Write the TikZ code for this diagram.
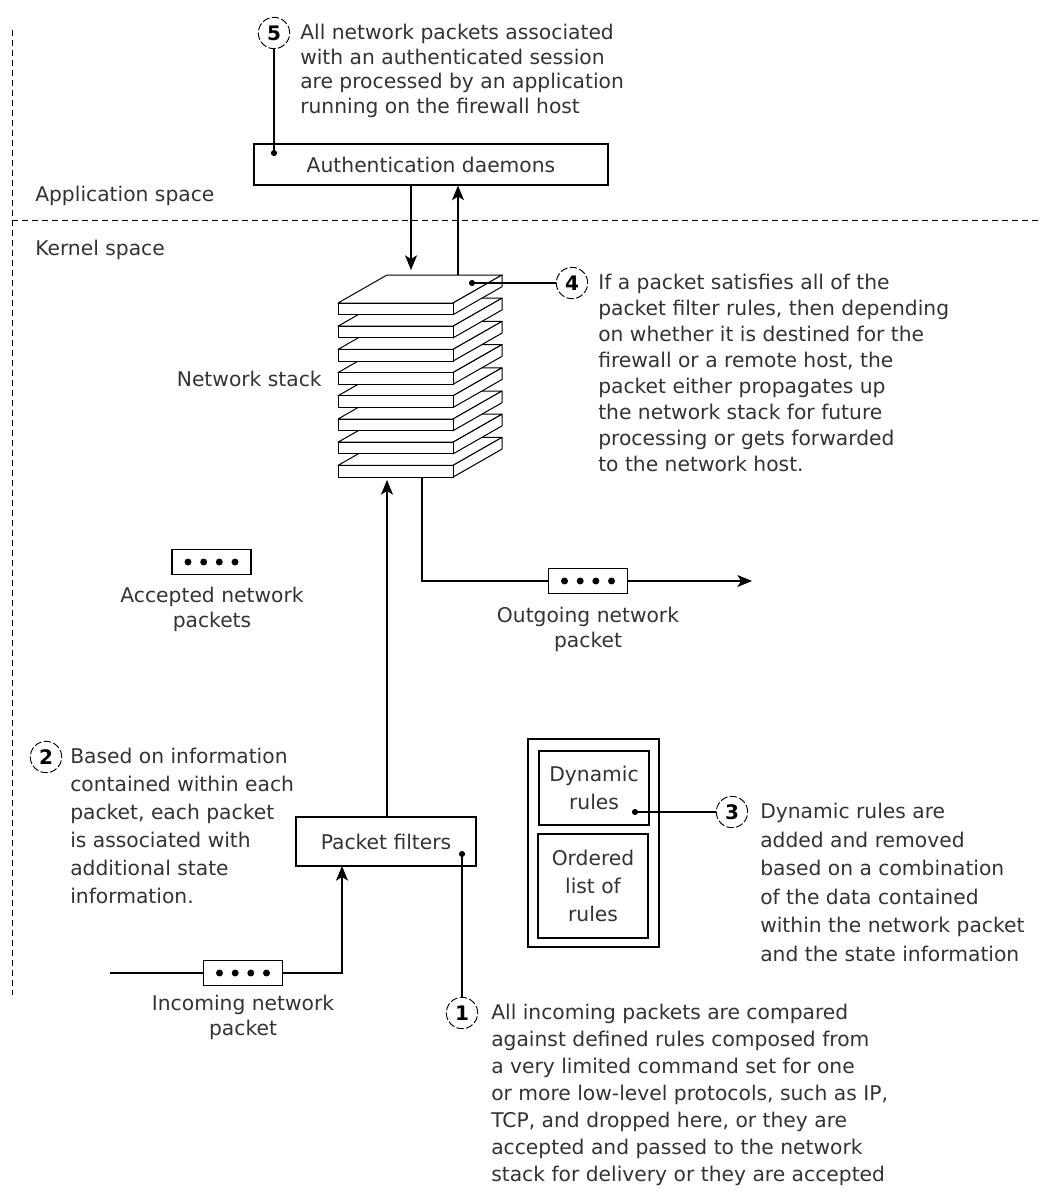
\documentclass[tikz,border=0pt]{standalone}
\usepackage{fontspec}
\setmainfont{DejaVu Sans}
\usetikzlibrary{arrows.meta}
\begin{document}
\begin{tikzpicture}[x=0.75pt,y=-0.75pt,
  ln/.style={line width=0.85pt},
  arr/.style={line width=0.85pt,-{Stealth[length=11pt,width=9pt,inset=2.8pt]}},
  dsh/.style={line width=0.75pt,dash pattern=on 4.5pt off 3pt},
  txt/.style={inner sep=0pt,align=left,anchor=north west,text=black!80},
  lbl/.style={inner sep=0pt,text=black!80,font=\fontsize{15.2}{18.75}\selectfont},
  num/.style={circle,draw,line width=0.7pt,dash pattern=on 5.5pt off 1.8pt,minimum size=23.5pt,inner sep=0pt,font=\bfseries\fontsize{15}{15}\selectfont},
  bx/.style={draw,line width=0.85pt,fill=white,inner sep=0pt,text=black!80,align=center},
  pk/.style={draw,line width=0.85pt,fill=white,minimum width=59.25pt,minimum height=18.75pt,inner sep=0pt},
  slab/.style={draw,line width=0.75pt,fill=white,line join=round},
  dotm/.style={fill=black}
]
\useasboundingbox (0,0) rectangle (1046,1193);

% region separators
\coordinate (vtop) at (12,30);
\coordinate (vbot) at (12,995);
\coordinate (hl) at (12,220);
\coordinate (hr) at (1040,220);
\draw[dsh] (vtop) -- (vbot);
\draw[dsh] (hl) -- (hr);
\node[lbl,anchor=west] (appsp) at (35,196) {Application space};
\node[lbl,anchor=west] (kersp) at (35,250) {Kernel space};

% authentication daemons
\node[bx,minimum width=265.5pt,minimum height=30.75pt,font=\fontsize{15.2}{18}\selectfont] (auth) at (431,164.5) {Authentication daemons};

% callout 5
\node[num] (c5) at (274,33) {5};
\node[txt,font=\fontsize{15.2}{18.4}\selectfont] (t5) at (300,24) {All network packets associated\\with an authenticated session\\are processed by an application\\running on the firewall host};
\coordinate (d5) at (274,153);
\draw[ln] (c5.south) -- (d5);
\fill[dotm] (d5) circle (2.3pt);

% network stack
\foreach \k in {7,6,...,0}{
  \pgfmathsetmacro\t{303+23.2*\k}
  \pgfmathsetmacro\b{\t+11.7}
  \draw[slab] (338,\t) -- (387,\t-28) -- (502,\t-28) -- (453,\t) -- cycle;
  \draw[slab] (453,\t) -- (502,\t-28) -- (502,\b-28) -- (453,\b) -- cycle;
  \draw[slab] (338,\t) rectangle (453,\b);
}
\node[lbl,anchor=east] (nslbl) at (322,379) {Network stack};
\coordinate (dn) at (411,270);
\coordinate (up) at (458,275);
\draw[arr] (auth.south -| dn) -- (dn);
\draw[arr] (up) -- (up |- auth.south);

% callout 4
\node[num] (c4) at (572,283) {4};
\node[txt,font=\fontsize{15.2}{19.5}\selectfont] (t4) at (598,274) {If a packet satisfies all of the\\packet filter rules, then depending\\on whether it is destined for the\\firewall or a remote host, the\\packet either propagates up\\the network stack for future\\processing or gets forwarded\\to the network host.};
\coordinate (d4) at (472,283);
\draw[ln] (d4) -- (c4.west);
\fill[dotm] (d4) circle (2.3pt);

% accepted packets
\node[pk] (acc) at (211.5,562) {};
\foreach \d in {-23.5,-7.8,7.8,23.5} \fill[dotm,shift={(acc.center)}] (\d,0) circle (2.6pt);
\node[lbl,anchor=north,align=center] (acclbl) at (212,587) {Accepted network\\packets};

% outgoing
\coordinate (so) at (422,477);
\coordinate (oe) at (752,581);
\node[pk] (out) at (588,581) {};
\draw[ln] (so) |- (out.west);
\draw[arr] (out.east) -- (oe);
\foreach \d in {-23.5,-7.8,7.8,23.5} \fill[dotm,shift={(out.center)}] (\d,0) circle (2.6pt);
\node[lbl,anchor=north,align=center] (outlbl) at (588,607) {Outgoing network\\packet};

% packet filters
\node[bx,minimum width=135pt,minimum height=36.75pt,font=\fontsize{15.2}{18}\selectfont] (pf) at (386,841.5) {Packet filters};
\coordinate (sb) at (387,480);
\draw[arr] (pf.north -| sb) -- (sb);

% incoming
\coordinate (ia) at (110,973);
\coordinate (pfin) at (342,866);
\node[pk] (inc) at (243,973) {};
\draw[ln] (ia) -- (inc.west);
\draw[arr] (inc.east) -| (pfin);
\foreach \d in {-23.5,-7.8,7.8,23.5} \fill[dotm,shift={(inc.center)}] (\d,0) circle (2.6pt);
\node[lbl,anchor=north,align=center] (inclbl) at (243,995) {Incoming network\\packet};

% callout 2
\node[num] (c2) at (46,757) {2};
\node[txt,font=\fontsize{15.2}{21}\selectfont] (t2) at (70,748) {Based on information\\contained within each\\packet, each packet\\is associated with\\additional state\\information.};

% rules
\node[bx,minimum width=98.25pt,minimum height=156pt] (rules) at (593.5,843) {};
\node[bx,minimum width=82.5pt,minimum height=55.5pt,font=\fontsize{15.2}{21}\selectfont] (dyn) at (594,788) {Dynamic\\rules};
\node[bx,minimum width=82.5pt,minimum height=78pt,font=\fontsize{15.2}{21}\selectfont] (ord) at (593,886) {Ordered\\list of\\rules};

% callout 3
\node[num] (c3) at (732,812) {3};
\node[txt,font=\fontsize{15.2}{21.4}\selectfont] (t3) at (760,803) {Dynamic rules are\\added and removed\\based on a combination\\of the data contained\\within the network packet\\and the state information};
\coordinate (d3) at (635,812);
\draw[ln] (d3) -- (c3.west);
\fill[dotm] (d3) circle (2.3pt);

% callout 1
\node[num] (c1) at (462,1013) {1};
\node[txt,font=\fontsize{15.2}{20.25}\selectfont] (t1) at (491,1004) {All incoming packets are compared\\against defined rules composed from\\a very limited command set for one\\or more low-level protocols, such as IP,\\TCP, and dropped here, or they are\\accepted and passed to the network\\stack for delivery or they are accepted};
\coordinate (d1) at (462,854);
\draw[ln] (d1) -- (c1.north);
\fill[dotm] (d1) circle (2.3pt);
\end{tikzpicture}
\end{document}
